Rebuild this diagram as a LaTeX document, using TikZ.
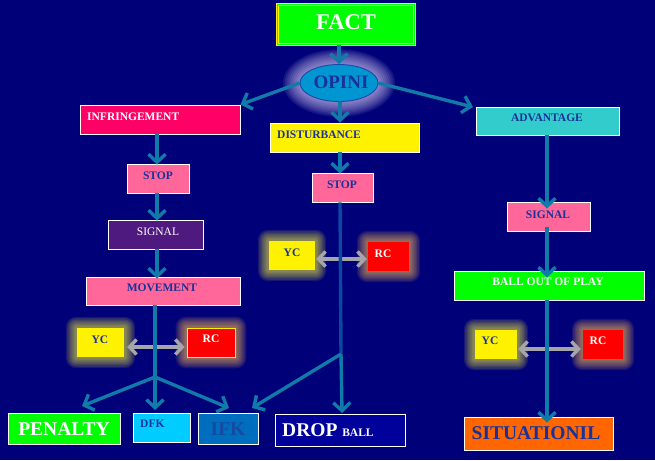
\documentclass[tikz,border=0pt]{standalone}
\usepackage{fontspec}
\setmainfont{Liberation Serif}
\usetikzlibrary{fit,arrows.meta,shapes.geometric}
\pgfdeclarelayer{bglayer}
\pgfdeclarelayer{glowlayer}
\pgfsetlayers{bglayer,glowlayer,main}
\definecolor{bg}{RGB}{0,0,120}
\definecolor{tb}{RGB}{25,50,155}
\definecolor{teal}{RGB}{16,122,168}
\definecolor{midline}{RGB}{12,72,160}
\definecolor{pinkbox}{RGB}{255,102,153}
\definecolor{infrbox}{RGB}{255,0,102}
\definecolor{advbox}{RGB}{51,204,204}
\definecolor{greenbox}{RGB}{0,255,0}
\definecolor{sigbox}{RGB}{78,26,128}
\definecolor{dfkbox}{RGB}{0,204,255}
\definecolor{ifkbox}{RGB}{0,110,190}
\definecolor{ifktext}{RGB}{20,75,160}
\definecolor{dropbox}{RGB}{0,0,155}
\definecolor{sitbox}{RGB}{255,102,0}
\definecolor{efill}{RGB}{0,150,210}
\definecolor{ebord}{RGB}{30,70,170}
\definecolor{eglow}{RGB}{235,225,255}
\definecolor{yglow}{RGB}{240,240,60}
\definecolor{rglow}{RGB}{255,190,80}
\definecolor{grayarr}{RGB}{165,165,170}
\newcommand\glowbox[3]{%
  \foreach \g in {1,...,8}{%
    \fill[#2, opacity=0.1, rounded corners={\g*1.3pt}]
      ([shift={({-\g*#3/8},{\g*#3/8})}]#1.south west) rectangle
      ([shift={({\g*#3/8},{-\g*#3/8})}]#1.north east);}}
\begin{document}
\begin{tikzpicture}[x=1pt,y=-1pt,
  box/.style={inner sep=0pt, draw=white, line width=0.9pt},
  plain/.style={inner sep=0pt},
  txt/.style={inner sep=0pt, text=tb, font=\bfseries\fontsize{11.5}{12}\selectfont},
  bigtxt/.style={inner sep=0pt, font=\bfseries\fontsize{19.5}{20}\selectfont},
  arr/.style={draw=teal, line width=3.4pt, -{Straight Barb[length=8pt,width=17pt]}},
  seg/.style={draw=teal, line width=3.4pt},
  garr/.style={draw=grayarr, line width=3.4pt, {Straight Barb[length=7pt,width=15pt]}-{Straight Barb[length=7pt,width=15pt]}}
]
% background
\begin{pgfonlayer}{bglayer}
\fill[bg] (0,0) rectangle (655,460);
\end{pgfonlayer}
\useasboundingbox (0,0) rectangle (655,460);

% FACT
\node[fit={(277.5,4.5) (414.5,44.5)}, inner sep=0pt, fill=greenbox, draw=yellow, line width=1pt, double=greenbox, double distance=1.4pt] (fact) {};
\node[bigtxt, text=white, anchor=base, font=\bfseries\fontsize{22.5}{23}\selectfont] (factt) at (346,30) {FACT};

% OPINI
\node[ellipse, inner sep=0pt, minimum width=78pt, minimum height=37pt, fill=efill, draw=ebord, line width=0.9pt] (opini) at (339,83) {};
\node[inner sep=0pt, text=tb, font=\bfseries\fontsize{19}{20}\selectfont, anchor=base] (opinit) at (341,88) {OPINI};

% left column
\node[box, fit={(80,105) (240,134)}, fill=infrbox] (infr) {};
\node[txt, text=white, anchor=base west] (infrt) at (87,120) {INFRINGEMENT};
\node[box, fit={(127,164) (189,193)}, fill=pinkbox] (stopL) {};
\node[txt, anchor=base] (stopLt) at (158,179) {STOP};
\node[box, fit={(108,220) (203,249)}, fill=sigbox] (sigL) {};
\node[txt, text=white, anchor=base, font=\fontsize{11.5}{12}\selectfont] (sigLt) at (158,235) {SIGNAL};
\node[box, fit={(86,277) (240,305)}, fill=pinkbox] (move) {};
\node[txt, anchor=base] (movet) at (162,291) {MOVEMENT};
\node[plain, fit={(77,328) (124,357)}, fill=yellow] (ycL) {};
\node[txt, anchor=base] (ycLt) at (100,343) {YC};
\node[plain, fit={(187,328) (235,357)}, fill=red, draw=yellow, line width=0.8pt] (rcL) {};
\node[txt, text=white, anchor=base] (rcLt) at (211,342) {RC};

% middle column
\node[box, fit={(270,123) (419,152)}, fill=yellow] (dist) {};
\node[txt, anchor=base west] (distt) at (277,138) {DISTURBANCE};
\node[box, fit={(312,173) (373,202)}, fill=pinkbox] (stopM) {};
\node[txt, anchor=base] (stopMt) at (342,188) {STOP};
\node[plain, fit={(269,241) (315,270)}, fill=yellow] (ycM) {};
\node[txt, anchor=base] (ycMt) at (292,256) {YC};
\node[plain, fit={(368,242) (409,271)}, fill=red] (rcM) {};
\node[txt, text=white, anchor=base] (rcMt) at (383,257) {RC};

% right column
\node[box, fit={(476,107) (619,135)}, fill=advbox] (adv) {};
\node[txt, anchor=base] (advt) at (547,121) {ADVANTAGE};
\node[box, fit={(507,202) (590,231)}, fill=pinkbox] (sigR) {};
\node[txt, anchor=base] (sigRt) at (548,218) {SIGNAL};
\node[box, fit={(454,271) (644,300)}, fill=greenbox] (ball) {};
\node[txt, text=white, anchor=base] (ballt) at (548,285) {BALL OUT OF PLAY};
\node[plain, fit={(475,330) (517,359)}, fill=yellow] (ycR) {};
\node[txt, anchor=base] (ycRt) at (490,344) {YC};
\node[plain, fit={(583,330) (623,359)}, fill=red] (rcR) {};
\node[txt, text=white, anchor=base] (rcRt) at (598,344) {RC};

% bottom row
\node[box, fit={(8,413) (120,444)}, fill=greenbox] (pen) {};
\node[bigtxt, text=white, anchor=base] (pent) at (64,435) {PENALTY};
\node[box, fit={(133,413) (190,442)}, fill=dfkbox] (dfk) {};
\node[txt, anchor=base west] (dfkt) at (140,427) {DFK};
\node[box, fit={(198,413) (258,444)}, fill=ifkbox] (ifk) {};
\node[bigtxt, text=ifktext, anchor=base] (ifkt) at (228,435) {IFK};
\node[box, fit={(275,414) (405,446)}, fill=dropbox] (drop) {};
\node[inner sep=0pt, text=white, anchor=base west] (dropt) at (282,436) {\bfseries\fontsize{19.5}{20}\selectfont DROP \fontsize{11.5}{12}\selectfont BALL};
\node[box, fit={(464,417) (613,450)}, fill=sitbox] (sit) {};
\node[bigtxt, text=tb, anchor=base] (sitt) at (536,439) {SITUATIONIL};

% glows
\begin{pgfonlayer}{glowlayer}
\glowbox{ycL}{yglow}{11}
\glowbox{rcL}{rglow}{11}
\glowbox{ycM}{yglow}{11}
\glowbox{rcM}{rglow}{11}
\glowbox{ycR}{yglow}{11}
\glowbox{rcR}{rglow}{11}
\foreach \g in {1,...,9}{%
  \fill[eglow, opacity=0.09] (opini.center) ellipse [x radius={39pt+\g*1.9pt}, y radius={18.5pt+\g*1.7pt}];}
\end{pgfonlayer}

% helper coordinates
\coordinate (colL) at (157,0);
\coordinate (colM) at (340,0);
\coordinate (colR) at (547,0);
\coordinate (jL) at (155,377);
\coordinate (jM) at (341,354);
\coordinate (penT) at (82,406);
\coordinate (dfkT) at (155,410);
\coordinate (ifkT1) at (229,408);
\coordinate (ifkT2) at (252,408);
\coordinate (dropT) at (342,413);
\coordinate (advT) at (473,107);

% gray double arrows
\draw[garr] ([xshift=1pt]ycM.east |- 0,259) -- ([xshift=-1pt]rcM.west |- 0,259);
\draw[garr] ([xshift=3pt]ycL.east |- 0,347) -- ([xshift=-2pt]rcL.west |- 0,347);
\draw[garr] ([xshift=1pt]ycR.east |- 0,349) -- ([xshift=-2pt]rcR.west |- 0,349);

% connectors
\draw[arr] (opini |- fact.south) -- (opini.north);
\draw[arr] (opini.west) -- (infr.north east);
\draw[arr] (colM |- opini.south) -- (colM |- dist.north);
\draw[arr] (opini.east) -- (advT);

\draw[arr] (colL |- infr.south) -- ([yshift=-1pt]colL |- stopL.north);
\draw[arr] (colL |- stopL.south) -- ([yshift=-1pt]colL |- sigL.north);
\draw[arr] (colL |- sigL.south) -- ([yshift=-2pt]colL |- move.north);
\draw[seg] (jL |- move.south) -- (jL);
\draw[arr] (jL) -- (penT);
\draw[arr] (jL) -- (dfkT);
\draw[arr] (jL) -- (ifkT1);

\draw[arr] (colM |- dist.south) -- ([yshift=-1pt]colM |- stopM.north);
\draw[draw=midline, line width=3.4pt] (colM |- stopM.south) -- (jM);
\draw[arr] (jM) -- (ifkT2);
\draw[arr] (jM) -- (dropT);

\draw[arr] (colR |- adv.south) -- ([yshift=-7pt]colR |- sigR.north);
\draw[arr] ([yshift=4pt]colR |- sigR.south) -- ([yshift=-7pt]colR |- ball.north);
\draw[arr] (colR |- ball.south) -- ([yshift=-6pt]colR |- sit.north);
\end{tikzpicture}
\end{document}
